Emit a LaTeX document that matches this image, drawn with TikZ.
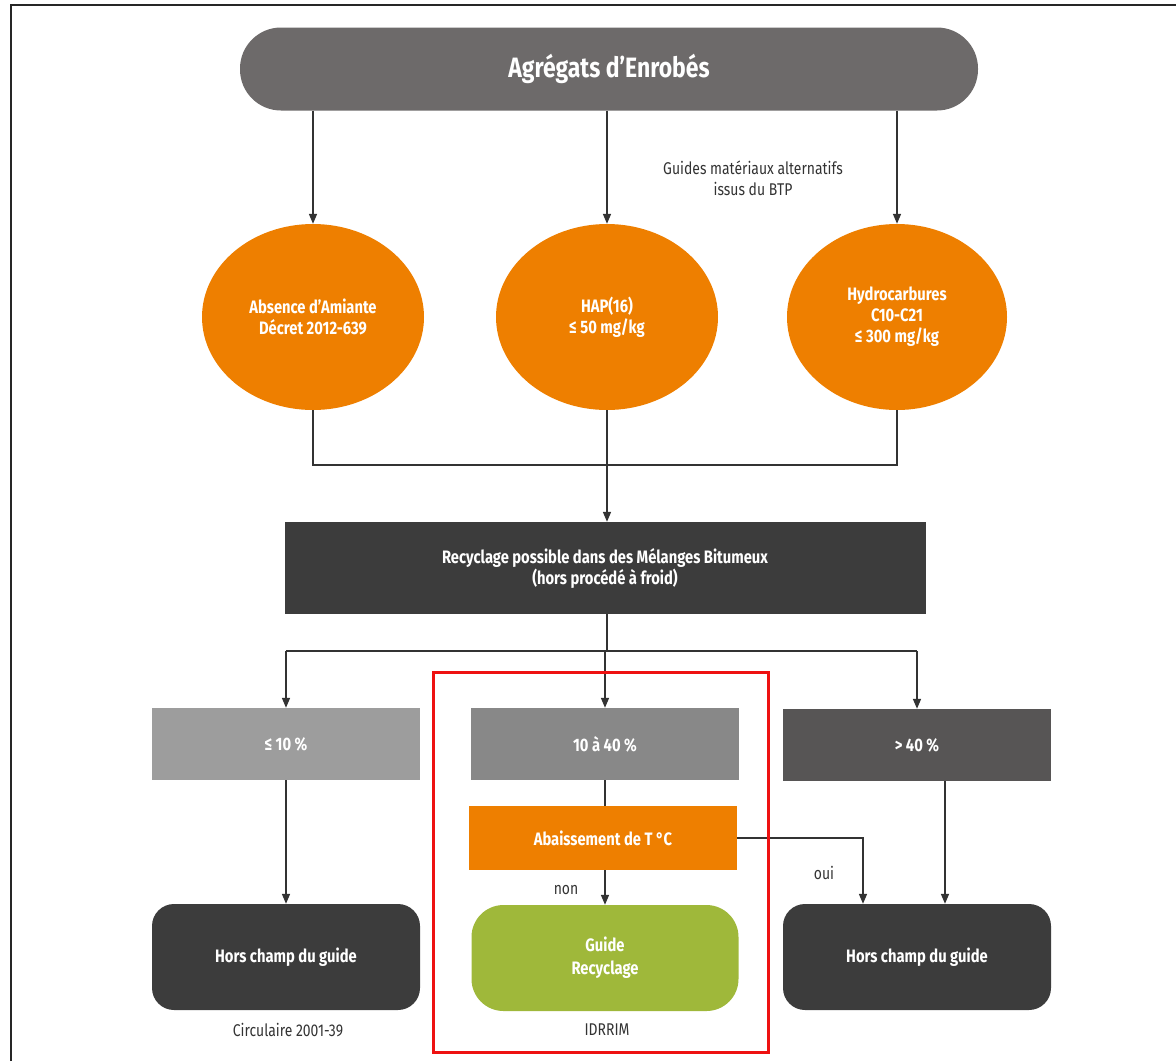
\documentclass[tikz,border=0pt]{standalone}
\usepackage{fontspec}
\setmainfont{Fira Sans}[FakeStretch=0.82]
\usetikzlibrary{shapes.geometric,arrows.meta,calc}
\definecolor{topgray}{HTML}{6D6A6A}
\definecolor{orangec}{HTML}{EE7F00}
\definecolor{darkc}{HTML}{3C3C3C}
\definecolor{lowgray}{HTML}{9D9D9D}
\definecolor{midgray}{HTML}{888888}
\definecolor{highgray}{HTML}{575555}
\definecolor{greenc}{HTML}{9FB83A}
\definecolor{linec}{HTML}{333333}
\definecolor{redc}{HTML}{EE1111}

\begin{document}
\begin{tikzpicture}[x=1pt, y=-1pt,
    box/.style={text=white, align=center, inner sep=0pt, font=\bfseries\fontsize{18}{21}\selectfont},
    note/.style={text=linec, align=center, inner sep=0pt, font=\fontsize{17}{21}\selectfont},
    arr/.style={draw=linec, line width=1.6pt, -{Triangle[length=10pt,width=8pt]}},
    con/.style={draw=linec, line width=1.6pt}]
    \useasboundingbox (0,0) rectangle (1176,1061);
    \draw[line width=2.6pt, black!85] (11,1061) -- (11,5) -- (1176,5);

    \node[box, fill=topgray, rounded corners=41pt, minimum width=738pt, minimum height=83pt,
          font=\bfseries\fontsize{28}{32}\selectfont] (agg) at (609,69) {Agrégats d’Enrobés};
    \node[note] (guides) at (753,178) {Guides matériaux alternatifs\\issus du BTP};

    \node[box, ellipse, fill=orangec, minimum width=222pt, minimum height=186pt] (amiante) at (313,317) {Absence d’Amiante\\Décret 2012-639};
    \node[box, ellipse, fill=orangec, minimum width=222pt, minimum height=186pt] (hap) at (607,317) {HAP(16)\\≤ 50 mg/kg};
    \node[box, ellipse, fill=orangec, minimum width=220pt, minimum height=186pt] (hydro) at (897,317) {Hydrocarbures\\C10-C21\\≤ 300 mg/kg};

    \node[box, fill=darkc, minimum width=641pt, minimum height=92pt] (recyc) at (605,568)
        {Recyclage possible dans des Mélanges Bitumeux\\(hors procédé à froid)};

    \node[box, fill=lowgray, minimum width=268pt, minimum height=72pt] (b1) at (286,744) {≤ 10 \%};
    \node[box, fill=midgray, minimum width=268pt, minimum height=72pt] (b2) at (605,744) {10 à 40 \%};
    \node[box, fill=highgray, minimum width=268pt, minimum height=72pt] (b3) at (917,745) {> 40 \%};

    \node[box, fill=orangec, minimum width=268pt, minimum height=64pt] (abt) at (603,838) {Abaissement de T °C};

    \node[box, fill=darkc, rounded corners=22pt, minimum width=268pt, minimum height=106pt] (h1) at (286,957) {Hors champ du guide};
    \node[box, fill=greenc, rounded corners=32pt, minimum width=267pt, minimum height=106pt] (gr) at (605,958) {Guide\\[2pt]Recyclage};
    \node[box, fill=darkc, rounded corners=22pt, minimum width=268pt, minimum height=106pt] (h2) at (917,957) {Hors champ du guide};

    \node[note] (non) at (566,890) {non};
    \node[note] (oui) at (824,873) {oui};
    \node[note] (circ) at (288,1030) {Circulaire 2001-39};
    \node[note] (idrrim) at (607,1030) {IDRRIM};

    \foreach \e in {amiante,hap,hydro} \draw[arr] (agg.south -| \e) -- (\e.north);
    \draw[con] (amiante.south) -- ++(0,55) -| (hydro.south);
    \draw[arr] (hap.south) -- (recyc.north -| hap);
    \draw[con] (recyc.south -| hap) -- ++(0,37) coordinate (split);
    \draw[con] (split -| b1) -- (split -| b3);
    \foreach \b in {b1,b2,b3} \draw[arr] (split -| \b) -- (\b.north);
    \draw[arr] (b1.south) -- (h1.north);
    \draw[con] (b2.south) -- (b2.south |- abt.north);
    \draw[arr] (abt.south -| b2) -- (gr.north -| b2);
    \draw[arr] (abt.east) -| ([xshift=-54pt]h2.north);
    \draw[arr] ([xshift=28pt]b3.south) -- ([xshift=28pt]h2.north);

    \draw[redc, line width=3pt] (433,672) rectangle (768,1052);
\end{tikzpicture}
\end{document}
